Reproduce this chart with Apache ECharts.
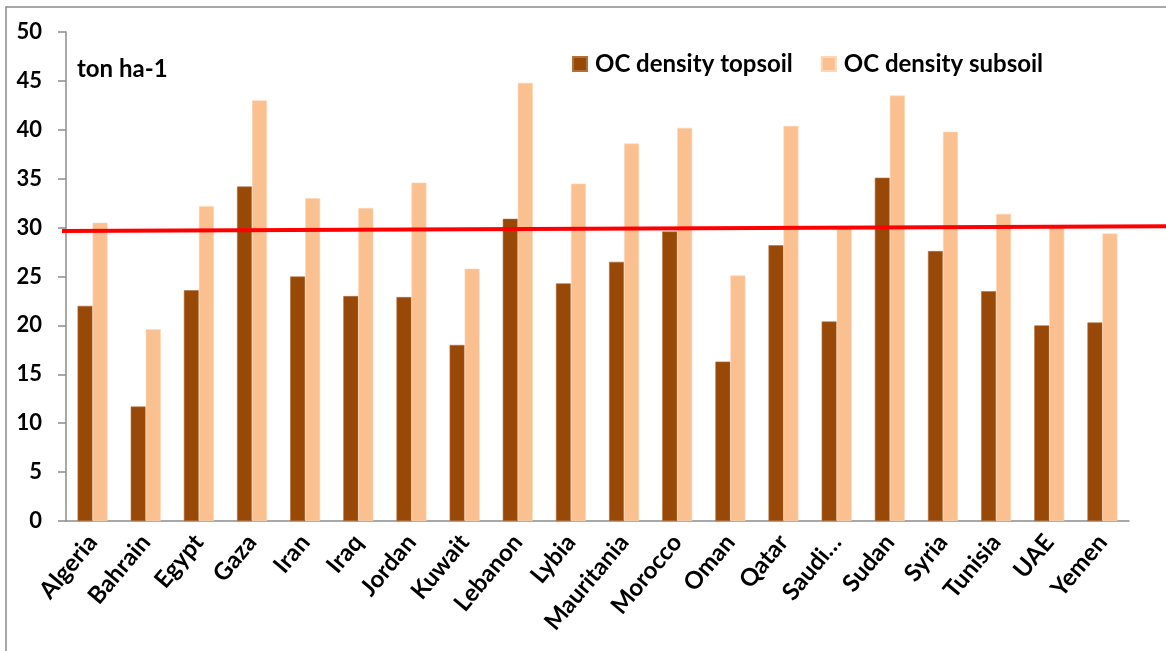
<!DOCTYPE html>
<html>
<head>
<meta charset="utf-8">
<script src="https://cdn.jsdelivr.net/npm/echarts@6/dist/echarts.min.js"></script>
<style>
  html, body { margin: 0; padding: 0; background: #fff; }
  #chart { width: 1166px; height: 651px; }
</style>
</head>
<body>
<div id="chart"></div>
<script>
// Countries along the category axis
const countries = ['Algeria', 'Bahrain', 'Egypt', 'Gaza', 'Iran', 'Iraq', 'Jordan', 'Kuwait',
  'Lebanon', 'Lybia', 'Mauritania', 'Morocco', 'Oman', 'Qatar', 'Saudi\u2026', 'Sudan',
  'Syria', 'Tunisia', 'UAE', 'Yemen'];

// Organic carbon density (ton ha-1)
const topsoil = [22.0, 11.7, 23.6, 34.2, 25.0, 23.0, 22.9, 18.0, 30.9, 24.3,
  26.5, 29.6, 16.3, 28.2, 20.4, 35.1, 27.6, 23.5, 20.0, 20.3];
const subsoil = [30.5, 19.6, 32.2, 43.0, 33.0, 32.0, 34.6, 25.8, 44.8, 34.5,
  38.6, 40.2, 25.1, 40.4, 30.0, 43.5, 39.8, 31.4, 30.2, 29.4];

// Reference line level at its left and right ends
const refLine = [29.65, 30.15];

const yTicks = { min: 0, max: 50, interval: 5 };

const FONT = 'Lato, "Open Sans", sans-serif';
const AXIS_GREY = '#8c8c8c';

const chart = echarts.init(document.getElementById('chart'), null, { renderer: 'canvas' });

chart.setOption({
  animation: false,
  backgroundColor: '#ffffff',
  textStyle: { fontFamily: FONT },
  graphic: [{
    type: 'rect',
    shape: { x: 6, y: 7, width: 1300, height: 800 },
    style: { fill: 'none', stroke: '#8a8a8a', lineWidth: 1.5 },
    silent: true,
    z: -10
  }],
  title: {
    text: 'ton ha-1',
    left: 72,
    top: 52,
    textStyle: { fontFamily: FONT, fontWeight: 'bold', fontSize: 24, color: '#000' }
  },
  legend: {
    left: 567,
    top: 47,
    itemWidth: 14,
    itemHeight: 14,
    itemGap: 28,
    icon: 'rect',
    data: ['OC density topsoil', 'OC density subsoil'],
    textStyle: { fontFamily: FONT, fontWeight: 'bold', fontSize: 24, color: '#000', padding: [0, 0, 0, 3] }
  },
  grid: [
    { left: 66, right: 37, top: 32, bottom: 130, containLabel: false },
    { left: 62, right: 0, top: 32, bottom: 130, containLabel: false }
  ],
  xAxis: [{
    type: 'category',
    gridIndex: 0,
    data: countries,
    axisLine: { lineStyle: { color: AXIS_GREY, width: 1.5 } },
    axisTick: { length: 8, lineStyle: { color: AXIS_GREY, width: 1.5 } },
    axisLabel: {
      rotate: 50,
      margin: 17,
      interval: 0,
      fontFamily: FONT,
      fontWeight: 'bold',
      fontSize: 24,
      color: '#000'
    }
  }, {
    type: 'value',
    gridIndex: 1,
    min: 0,
    max: 1,
    show: false
  }],
  yAxis: [{
    type: 'value',
    gridIndex: 0,
    min: yTicks.min,
    max: yTicks.max,
    interval: yTicks.interval,
    axisLine: { show: true, lineStyle: { color: AXIS_GREY, width: 1.5 } },
    axisTick: { show: true, length: 8, lineStyle: { color: AXIS_GREY, width: 1.5 } },
    splitLine: { show: false },
    axisLabel: {
      margin: 24,
      fontFamily: FONT,
      fontWeight: 'bold',
      fontSize: 22,
      color: '#000'
    }
  }, {
    type: 'value',
    gridIndex: 1,
    min: yTicks.min,
    max: yTicks.max,
    show: false
  }],
  series: [{
    name: 'OC density topsoil',
    type: 'bar',
    xAxisIndex: 0,
    yAxisIndex: 0,
    data: topsoil,
    barWidth: 15,
    barGap: '0%',
    itemStyle: { color: '#984807', borderColor: '#b2703c', borderWidth: 0.6 }
  }, {
    name: 'OC density subsoil',
    type: 'bar',
    xAxisIndex: 0,
    yAxisIndex: 0,
    data: subsoil,
    barWidth: 15,
    barGap: '0%',
    itemStyle: { color: '#FAC090', borderColor: '#fdd6b6', borderWidth: 0.6 }
  }, {
    name: 'reference',
    type: 'line',
    xAxisIndex: 1,
    yAxisIndex: 1,
    data: [[0, refLine[0]], [1, refLine[1]]],
    symbol: 'none',
    lineStyle: { color: '#FF0000', width: 4 },
    z: 5,
    silent: true
  }]
});
</script>
</body>
</html>
